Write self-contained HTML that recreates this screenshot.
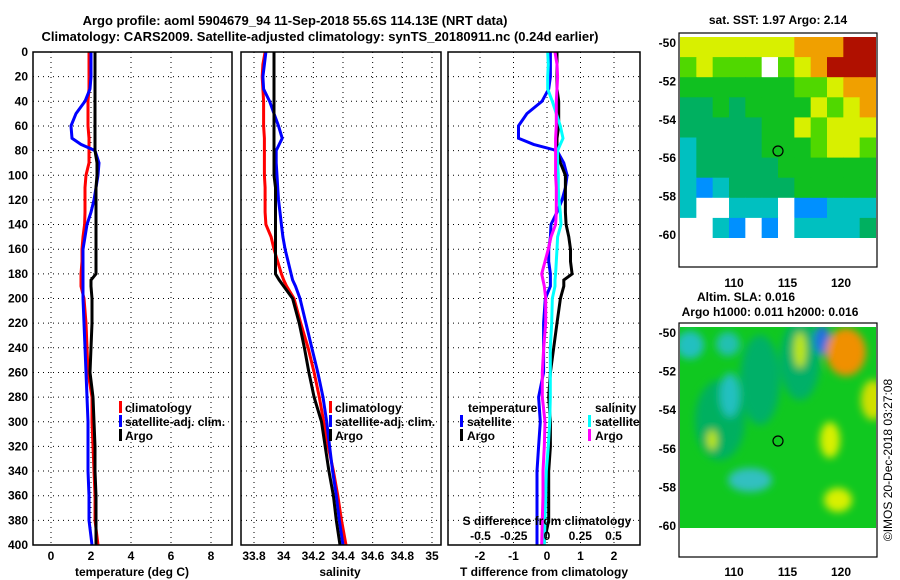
<!DOCTYPE html>
<html><head><meta charset="utf-8"><style>
html,body{margin:0;padding:0;background:#fff;}
svg{display:block;font-family:"Liberation Sans",sans-serif;font-weight:bold;}
</style></head><body>
<svg id="chart" width="900" height="580" viewBox="0 0 900 580" xmlns="http://www.w3.org/2000/svg">
<defs><filter id="blur" x="-20%" y="-20%" width="140%" height="140%"><feGaussianBlur stdDeviation="4"/></filter>
<clipPath id="clipTop"><rect x="680" y="37" width="196" height="201"/></clipPath>
<clipPath id="clipBot"><rect x="680" y="327" width="196" height="201"/></clipPath></defs>
<text x="295" y="25" font-size="13" text-anchor="middle">Argo profile: aoml 5904679_94 11-Sep-2018 55.6S 114.13E (NRT data)</text>
<text x="320" y="41" font-size="13" text-anchor="middle">Climatology: CARS2009. Satellite-adjusted climatology: synTS_20180911.nc (0.24d earlier)</text>
<g id="grids"></g>
<g id="series"></g>
<g id="frames" fill="none" stroke="#000" stroke-width="1.5">
<rect x="33" y="52" width="199" height="493"/>
<rect x="241" y="52" width="200" height="493"/>
<rect x="448" y="52" width="192" height="493"/>
</g>
<g id="labels" font-size="12"></g>
<g font-size="12">
<rect x="119" y="401" width="3" height="12" fill="#f00"/><text x="125" y="412">climatology</text>
<rect x="119" y="415" width="3" height="12" fill="#00f"/><text x="125" y="426">satellite-adj. clim.</text>
<rect x="119" y="429" width="3" height="12" fill="#000"/><text x="125" y="440">Argo</text>
</g>
<g font-size="12">
<rect x="329" y="401" width="3" height="12" fill="#f00"/><text x="335" y="412">climatology</text>
<rect x="329" y="415" width="3" height="12" fill="#00f"/><text x="335" y="426">satellite-adj. clim.</text>
<rect x="329" y="429" width="3" height="12" fill="#000"/><text x="335" y="440">Argo</text>
</g>
<g font-size="12">
<text x="468" y="412">temperature</text>
<rect x="460" y="415" width="3" height="12" fill="#00f"/><text x="467" y="426">satellite</text>
<rect x="460" y="429" width="3" height="12" fill="#000"/><text x="467" y="440">Argo</text>
<text x="595" y="412">salinity</text>
<rect x="588" y="415" width="3" height="12" fill="#0ff"/><text x="595" y="426">satellite</text>
<rect x="588" y="429" width="3" height="12" fill="#f0f"/><text x="595" y="440">Argo</text>
</g>
<text x="547" y="525" font-size="12" text-anchor="middle">S difference from climatology</text>
<g id="sticks" font-size="12" text-anchor="middle"></g>
<text x="132" y="576" font-size="12" text-anchor="middle">temperature (deg C)</text>
<text x="340" y="576" font-size="12" text-anchor="middle">salinity</text>
<text x="544" y="576" font-size="12" text-anchor="middle">T difference from climatology</text>
<!-- maps -->
<text x="778" y="24" font-size="12" text-anchor="middle">sat. SST: 1.97 Argo: 2.14</text>
<g id="sstmap" clip-path="url(#clipTop)"></g>
<text x="746" y="301" font-size="12" text-anchor="middle">Altim. SLA: 0.016</text>
<text x="770" y="316" font-size="12" text-anchor="middle">Argo h1000: 0.011 h2000: 0.016</text>
<g clip-path="url(#clipBot)">
<rect x="680" y="327" width="196" height="201" fill="#10c820"/>
<g filter="url(#blur)">
<ellipse cx="720" cy="420" rx="25" ry="40" fill="#00b060"/>
<ellipse cx="760" cy="380" rx="20" ry="45" fill="#00b068"/>
<ellipse cx="800" cy="360" rx="20" ry="40" fill="#00b068"/>
<ellipse cx="690" cy="345" rx="14" ry="14" fill="#20c0c0"/>
<ellipse cx="728" cy="344" rx="12" ry="12" fill="#20c0b0"/>
<ellipse cx="730" cy="395" rx="10" ry="22" fill="#20c0c0"/>
<ellipse cx="750" cy="480" rx="22" ry="12" fill="#30c0c0"/>
<ellipse cx="822" cy="340" rx="8" ry="15" fill="#2070e0"/>
<ellipse cx="846" cy="352" rx="20" ry="24" fill="#f09000"/>
<ellipse cx="873" cy="400" rx="12" ry="20" fill="#d0e000"/>
<ellipse cx="830" cy="440" rx="10" ry="18" fill="#d8f000"/>
<ellipse cx="838" cy="500" rx="14" ry="12" fill="#d8f000"/>
<ellipse cx="800" cy="350" rx="6" ry="18" fill="#c0e800"/>
<ellipse cx="712" cy="440" rx="5" ry="10" fill="#c0e800"/>
</g></g>
<g fill="none" stroke="#000" stroke-width="1.2">
<rect x="679" y="33" width="198" height="234"/>
<rect x="679" y="323" width="198" height="234"/>
<circle cx="778" cy="151" r="5"/>
<circle cx="778" cy="441" r="5"/>
</g>
<g id="maplabels" font-size="12"></g>
<text transform="translate(892,460) rotate(-90)" font-size="12" font-weight="normal" text-anchor="middle">©IMOS 20-Dec-2018 03:27:08</text>
</svg>
<script>
const depths=[0,10,20,30,40,50,60,70,75,80,90,100,110,120,130,140,150,160,170,180,185,190,200,220,240,260,280,300,320,340,360,380,400];
const tempClim=[1.9,1.9,1.9,1.9,1.85,1.85,1.85,1.9,1.9,1.9,1.9,1.75,1.7,1.7,1.7,1.68,1.6,1.55,1.55,1.5,1.5,1.5,1.65,1.75,1.8,1.85,2.05,2.05,2.1,2.15,2.2,2.2,2.35];
const tempSat=[2.0,2.0,2.0,1.95,1.7,1.25,1.0,1.05,1.5,2.2,2.4,2.35,2.25,2.15,2.0,1.8,1.7,1.6,1.6,1.6,1.6,1.6,1.6,1.65,1.7,1.75,1.8,1.85,1.85,1.85,1.9,1.9,2.05];
const tempArgo=[2.2,2.2,2.2,2.2,2.2,2.2,2.2,2.2,2.2,2.2,2.3,2.3,2.25,2.25,2.25,2.25,2.25,2.25,2.25,2.25,2.0,2.0,2.05,2.05,2.0,1.95,2.1,2.15,2.2,2.2,2.25,2.25,2.25];
const salClim=[33.875,33.86,33.855,33.86,33.865,33.865,33.865,33.87,33.87,33.87,33.87,33.87,33.875,33.875,33.875,33.88,33.915,33.935,33.96,33.985,34.0,34.02,34.07,34.115,34.165,34.205,34.24,34.27,34.3,34.335,34.365,34.39,34.42];
const salSat=[33.88,33.87,33.86,33.865,33.905,33.935,33.965,33.99,33.97,33.95,33.95,33.955,33.96,33.965,33.975,33.985,33.995,34.01,34.03,34.05,34.06,34.08,34.11,34.15,34.19,34.23,34.265,34.29,34.31,34.33,34.355,34.375,34.4];
const salArgo=[33.935,33.935,33.935,33.935,33.935,33.935,33.935,33.935,33.935,33.935,33.935,33.935,33.945,33.945,33.945,33.945,33.945,33.945,33.945,33.945,33.97,34.0,34.06,34.105,34.14,34.17,34.205,34.255,34.28,34.305,34.335,34.355,34.38];
const depthTicks=[0,20,40,60,80,100,120,140,160,180,200,220,240,260,280,300,320,340,360,380,400];
const tempTicks=[0,2,4,6,8];
const salTicks=[33.8,34,34.2,34.4,34.6,34.8,35];
const salTickLabels=["33.8","34","34.2","34.4","34.6","34.8","35"];
const dTTicks=[-2,-1,0,1,2];
const dSTicks=[-0.5,-0.25,0,0.25,0.5];
const dSTickLabels=["-0.5","-0.25","0","0.25","0.5"];
const latTicks=[-50,-52,-54,-56,-58,-60];
const lonTicks=[110,115,120];

const NS='http://www.w3.org/2000/svg';
const yD=d=>52+d*1.2325;
const xT=t=>51+20*t;
const xS=s=>254+(s-33.8)*148.33;
const xDT=v=>547+33.5*v;
const xDS=v=>547+133*v;
function mk(tag,attrs,parent){const e=document.createElementNS(NS,tag);for(const k in attrs)e.setAttribute(k,attrs[k]);parent.appendChild(e);return e;}
const grids=document.getElementById('grids'),series=document.getElementById('series'),labels=document.getElementById('labels');
const panels=[[33,232],[241,441],[448,640]];
depthTicks.forEach(d=>{
  panels.forEach(p=>{const l=mk('line',{x1:p[0],x2:p[1],y1:yD(d),y2:yD(d),stroke:'#000','stroke-width':1,'stroke-dasharray':'1,4'},grids);
    
    });
  const t=mk('text',{x:28,y:yD(d)+4,'text-anchor':'end'},labels);t.textContent=d;
  
  
});
function vgrid(x){const l=mk('line',{x1:x,x2:x,y1:52,y2:545,stroke:'#000','stroke-width':1,'stroke-dasharray':'1,4'},grids);
  
  }
tempTicks.forEach(t=>{vgrid(xT(t));const e=mk('text',{x:xT(t),y:560,'text-anchor':'middle'},labels);e.textContent=t;
  
  });
salTicks.forEach((s,i)=>{vgrid(xS(s));const e=mk('text',{x:xS(s),y:560,'text-anchor':'middle'},labels);e.textContent=salTickLabels[i];
  
  });
dTTicks.forEach(t=>{vgrid(xDT(t));const e=mk('text',{x:xDT(t),y:560,'text-anchor':'middle'},labels);e.textContent=t;
  
  });
const st=document.getElementById('sticks');
dSTicks.forEach((t,i)=>{const e=mk('text',{x:xDS(t),y:540},st);e.textContent=dSTickLabels[i];
  
  });
function line(vals,fx,color,name){
  const pts=vals.map((v,i)=>fx(v,i).toFixed(1)+','+yD(depths[i]).toFixed(1)).join(' ');
  const p=mk('polyline',{points:pts,fill:'none',stroke:color,'stroke-width':3,'stroke-linejoin':'miter'},series);
  
  
}
line(tempClim,v=>xT(v),'#f00','temp-climatology-line');
line(tempSat,v=>xT(v),'#00f','temp-satellite-line');
line(tempArgo,v=>xT(v),'#000','temp-argo-line');
line(salClim,v=>xS(v),'#f00','sal-climatology-line');
line(salSat,v=>xS(v),'#00f','sal-satellite-line');
line(salArgo,v=>xS(v),'#000','sal-argo-line');
line(tempSat,(v,i)=>xDT(v-tempClim[i]),'#00f','t-diff-satellite-line');
line(tempArgo,(v,i)=>xDT(v-tempClim[i]),'#000','t-diff-argo-line');
line(salSat,(v,i)=>xDS(v-salClim[i]),'#0ff','s-diff-satellite-line');
line(salArgo,(v,i)=>xDS(v-salClim[i]),'#f0f','s-diff-argo-line');
// map labels
const ml=document.getElementById('maplabels');
[[43,235,287],[333,526,576]].forEach(m=>{
  latTicks.forEach(la=>{const y=m[0]+(la+50)/-10*(m[1]-m[0]);const e=mk('text',{x:676,y:y+4,'text-anchor':'end'},ml);e.textContent=la;
    
    });
  lonTicks.forEach(lo=>{const x=734+(lo-110)*10.7;const e=mk('text',{x:x,y:m[2],'text-anchor':'middle'},ml);e.textContent=lo;
    
    });
});
// SST map coarse cells
const sstRows=["YYYYYYYOOORR","LYLLLWLYORRR","GGGGGGGLLYOO","TTGTGGGGYLYO","TTTTTGGYLYYY","CTTTTGGGLYYL","CTTTTTGGGGGG","CBCTTTTGGGGG","CWWCCCWBBCCC","WWCBWBWCCCCT"];
const col={Y:'#d8f000',L:'#50d800',G:'#10c020',T:'#00b060',C:'#00c0c0',B:'#0090ff',O:'#f0a000',R:'#b01000',W:'#ffffff'};
const sm=document.getElementById('sstmap');
mk('rect',{x:680,y:37,width:196,height:201,fill:'#fff'},sm);
sstRows.forEach((r,ri)=>{[...r].forEach((c,ci)=>{
  const e=mk('rect',{x:680+ci*196/12,y:37+ri*20.1,width:196/12+0.5,height:20.6,fill:col[c]},sm);
  
  
});});
</script>
</body></html>
